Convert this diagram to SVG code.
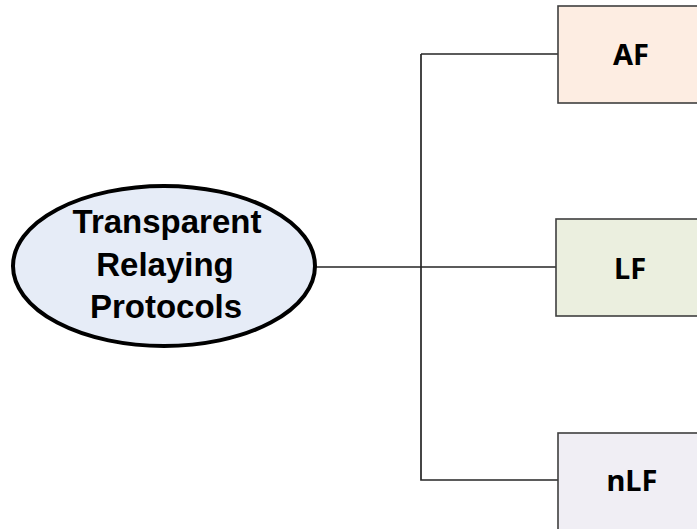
<svg xmlns="http://www.w3.org/2000/svg" width="697" height="529" viewBox="0 0 697 529">
<style>
.box{stroke:#3f3f3f;stroke-width:1.6}
.lbl{font-family:"Noto Sans","Open Sans",sans-serif;font-weight:bold;font-size:29px;fill:#000;text-anchor:middle}
.conn{fill:none;stroke:#262626;stroke-width:1.7}
.etext{font-family:"Liberation Sans",Arial,sans-serif;font-weight:bold;font-size:33px;fill:#000;text-anchor:middle}
</style>
<rect width="697" height="529" fill="#fff"/>
<g id="connectors">
<path class="conn" d="M421,54 H558 M421,54 V480 H558 M315,267 H556"/>
</g>
<g id="root">
<ellipse cx="164" cy="266" rx="151" ry="80" fill="#e6ecf7" stroke="#000" stroke-width="4"/>
<text class="etext" x="167" y="233">Transparent</text>
<text class="etext" x="165" y="276">Relaying</text>
<text class="etext" x="166" y="318">Protocols</text>
</g>
<g id="AF">
<rect class="box" x="558" y="6" width="160" height="97" fill="#fdede2"/>
<text class="lbl" x="631" y="65">AF</text>
</g>
<g id="LF">
<rect class="box" x="556" y="219" width="160" height="97" fill="#ebefdf"/>
<text class="lbl" x="630" y="279">LF</text>
</g>
<g id="nLF">
<rect class="box" x="558" y="433" width="160" height="120" fill="#f0eef4"/>
<text class="lbl" x="632" y="491">nLF</text>
</g>
</svg>
